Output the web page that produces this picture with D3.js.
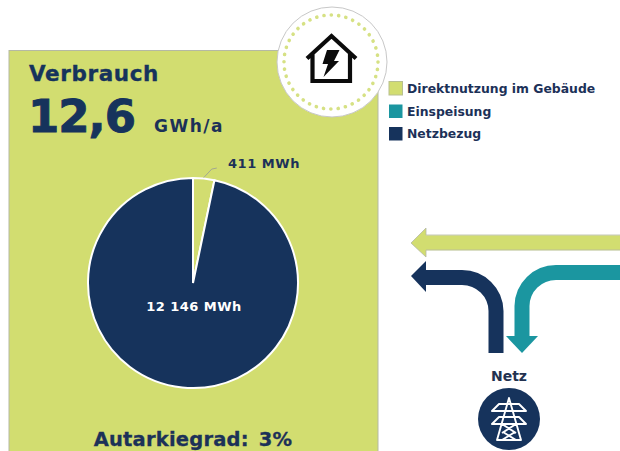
<!DOCTYPE html>
<html><head><meta charset="utf-8">
<script src="https://cdn.jsdelivr.net/npm/d3@7/dist/d3.min.js"></script>
<style>html,body{margin:0;padding:0;background:#fff}svg{display:block}text{font-family:"DejaVu Sans",sans-serif;font-weight:700}</style>
</head><body><svg id="c" width="620" height="451"></svg>
<script>
const sliceLabels = ["Direktnutzung im Gebäude", "Netzbezug"];
const sliceValues = [411, 12146];
const valueLabels = ["411 MWh", "12 146 MWh"];
const legendLabels = ["Direktnutzung im Gebäude", "Einspeisung", "Netzbezug"];
const legendColors = ["#d2dd70", "#1b96a0", "#16335c"];
const titleText = "Verbrauch";
const totalText = "12,6";
const unitText = "GWh/a";
const footerText = "Autarkiegrad: 3%";
const gridText = "Netz";

const navy = "#16335c", green = "#d2dd70", teal = "#1b96a0", textNavy = "#1c3158";
const svg = d3.select("#c");

// panel
svg.append("rect").attr("x", 9).attr("y", 50.5).attr("width", 369).attr("height", 401)
  .attr("fill", green).attr("stroke", "#b5b9a4").attr("stroke-width", 1);

// title block
svg.append("text").attr("x", 29).attr("y", 81).attr("font-size", 21.5).attr("letter-spacing", 0.6).attr("fill", navy)
  .attr("stroke", navy).attr("stroke-width", 0.35).text(titleText);
svg.append("text").attr("x", 28).attr("y", 132).attr("font-size", 45).attr("letter-spacing", -1).attr("fill", navy)
  .attr("stroke", navy).attr("stroke-width", 0.9).text(totalText);
svg.append("text").attr("x", 154).attr("y", 131.5).attr("font-size", 17).attr("letter-spacing", 1.5).attr("fill", textNavy).text(unitText);

// pie
const cx = 193, cy = 283, R = 105;
const color = d3.scaleOrdinal().domain(sliceLabels).range([legendColors[0], legendColors[2]]);
const pie = d3.pie().sort(null)(sliceValues);
const arc = d3.arc().innerRadius(0).outerRadius(R);
const gp = svg.append("g").attr("transform", `translate(${cx},${cy})`);
gp.selectAll("path").data(pie).join("path")
  .attr("d", arc).attr("fill", (d, i) => color(sliceLabels[i]))
  .attr("stroke", "#fff").attr("stroke-width", 2);

// leader line for small slice
const mid = (pie[0].startAngle + pie[0].endAngle) / 2;
const p0 = [cx + R * Math.sin(mid), cy - R * Math.cos(mid)];
svg.append("path").attr("fill", "none").attr("stroke", "#a3a890").attr("stroke-width", 1)
  .attr("d", `M${p0[0]},${p0[1] - 1}l8,-8.5l5,-1`);
svg.append("text").attr("x", 228).attr("y", 168).attr("font-size", 13).attr("letter-spacing", 0.55).attr("fill", textNavy).text(valueLabels[0]);
svg.append("text").attr("x", 194).attr("y", 311).attr("text-anchor", "middle").attr("font-size", 13).attr("letter-spacing", 0.45).attr("fill", "#fff").text(valueLabels[1]);

// footer
svg.append("text").attr("x", 193).attr("y", 445.5).attr("text-anchor", "middle").attr("font-size", 19.5).attr("word-spacing", 3).attr("letter-spacing", 0.2).attr("fill", textNavy)
  .attr("stroke", textNavy).attr("stroke-width", 0.3).text(footerText);

// badge
const bx = 332, by = 62;
svg.append("circle").attr("cx", bx).attr("cy", by).attr("r", 55).attr("fill", "#fff").attr("stroke", "#c8c8c8").attr("stroke-width", 1);
svg.append("circle").attr("cx", bx - 1).attr("cy", by).attr("r", 47).attr("fill", "none").attr("stroke", "#d6e184")
  .attr("stroke-width", 3.6).attr("stroke-linecap", "round").attr("stroke-dasharray", "0.1 7.28");
const house = svg.append("g");
house.append("path").attr("fill", "none").attr("stroke", "#0b0b0b").attr("stroke-width", 4.2).attr("stroke-linejoin", "miter")
  .attr("d", "M307,58.5 L331.5,36 L356,58.5 M312.5,54 V81 H350 V54");
house.append("path").attr("fill", "#0b0b0b")
  .attr("d", "M327,50 H339.5 L334,61 H339 L323.5,77 L328,64 H322.5 Z");

// legend
const legendY = [88, 111, 133.5];
const lg = svg.append("g").selectAll("g").data(legendLabels).join("g")
  .attr("transform", (d, i) => `translate(389,${legendY[i]})`);
lg.append("rect").attr("x", 0).attr("y", -6.5).attr("width", 13.5).attr("height", 13.5)
  .attr("fill", (d, i) => legendColors[i]).attr("stroke", (d, i) => i === 0 ? "#b8bf90" : "none");
lg.append("text").attr("x", 18).attr("y", 4.5).attr("font-size", 12.4).attr("fill", textNavy).text(d => d);

// flow arrows
const flow = (d, c) => svg.append("path").attr("d", d).attr("fill", "none").attr("stroke", c).attr("stroke-width", 15);
flow("M620,242.7H425", green);
svg.append("path").attr("fill", green).attr("d", "M411,243L426,228V257Z");
svg.append("path").attr("fill", "none").attr("stroke", "#b5b9a4").attr("stroke-width", 0.8)
  .attr("d", "M620,235H426V228L411,243L426,257V250H620");
flow("M496,353V311A34,34 0 0 0 462,277.5H425", navy);
svg.append("path").attr("fill", navy).attr("d", "M411,276L426,261V292Z");
flow("M620,272.5H556A34,34 0 0 0 522,306V337", teal);
svg.append("path").attr("fill", teal).attr("d", "M506,336H538L522,353Z");

// grid node
svg.append("text").attr("x", 509).attr("y", 381).attr("text-anchor", "middle").attr("font-size", 14).attr("fill", "#233250").text(gridText);
svg.append("circle").attr("cx", 509).attr("cy", 419).attr("r", 31).attr("fill", navy);
svg.append("path").attr("fill", "none").attr("stroke", "#fff").attr("stroke-width", 1.9).attr("stroke-linejoin", "round")
  .attr("d", "M509,398L497,440H521Z M492,411H526L519,404H499Z M492,424H526L519,417H499Z M502,424L516,433 M516,424L502,433 M503,432L516,440 M515,432L502,440");
</script></body></html>
